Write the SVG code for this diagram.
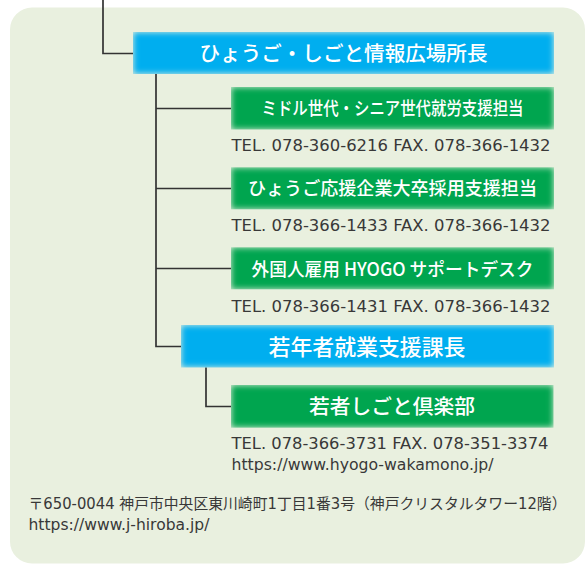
<svg xmlns="http://www.w3.org/2000/svg" width="588" height="565" viewBox="0 0 588 565">
<defs>
<filter id="glow" x="-5%" y="-20%" width="110%" height="140%">
<feGaussianBlur in="SourceGraphic" stdDeviation="3" result="b"/>
<feComposite in="b" in2="SourceAlpha" operator="in"/>
</filter>
<style>
.bg{fill:#E9F0DF}
.blue{fill:#00AEEF;filter:url(#glow)}
.green{fill:#00A550;filter:url(#glow)}
.lbl{font-family:"Noto Sans CJK JP","Noto Sans",sans-serif;font-weight:500;fill:#fff;text-anchor:middle}
.info{font-family:"DejaVu Sans","Noto Sans CJK JP",sans-serif;font-size:16px;fill:#383838}
.addr{font-family:"DejaVu Sans","Noto Sans CJK JP",sans-serif;font-size:15px;fill:#383838}
.conn{fill:none;stroke:#333;stroke-width:1.7}
</style>
</defs>
<rect class="bg" x="10" y="7.5" width="575" height="556" rx="22"/>
<g id="connectors">
<path class="conn" d="M103,0 V53.5 H133"/>
<path class="conn" d="M156,74 V346.5 H181"/>
<path class="conn" d="M156,108.5 H231"/>
<path class="conn" d="M156,188.5 H231"/>
<path class="conn" d="M156,268.5 H231"/>
<path class="conn" d="M206,367.5 V406.5 H231"/>
</g>
<g id="n-director">
<rect class="blue" x="133" y="32" width="421" height="42"/>
<text class="lbl" x="343.5" y="60.5" font-size="20.5" textLength="288" lengthAdjust="spacingAndGlyphs">ひょうご・しごと情報広場所長</text>
</g>
<g id="n-middle">
<rect class="green" x="231" y="87" width="323" height="42.5"/>
<text class="lbl" x="392.5" y="115" font-size="18" textLength="262" lengthAdjust="spacingAndGlyphs">ミドル世代・シニア世代就労支援担当</text>
<text class="info" x="231.5" y="150.7" textLength="319" lengthAdjust="spacingAndGlyphs">TEL. 078-360-6216 FAX. 078-366-1432</text>
</g>
<g id="n-graduate">
<rect class="green" x="231" y="167.3" width="323" height="42"/>
<text class="lbl" x="392.5" y="194.5" font-size="18.5" textLength="289" lengthAdjust="spacingAndGlyphs">ひょうご応援企業大卒採用支援担当</text>
<text class="info" x="231.5" y="230.7" textLength="319" lengthAdjust="spacingAndGlyphs">TEL. 078-366-1433 FAX. 078-366-1432</text>
</g>
<g id="n-foreign">
<rect class="green" x="231" y="247.3" width="323" height="42"/>
<text class="lbl" x="392.5" y="276" font-size="18.5" textLength="282" lengthAdjust="spacingAndGlyphs">外国人雇用 HYOGO サポートデスク</text>
<text class="info" x="231.5" y="311.5" textLength="319" lengthAdjust="spacingAndGlyphs">TEL. 078-366-1431 FAX. 078-366-1432</text>
</g>
<g id="n-youth-chief">
<rect class="blue" x="181" y="325" width="373" height="42.5"/>
<text class="lbl" x="367" y="354.5" font-size="21.5" textLength="197" lengthAdjust="spacingAndGlyphs">若年者就業支援課長</text>
</g>
<g id="n-youth-club">
<rect class="green" x="231" y="385" width="322.5" height="42.7"/>
<text class="lbl" x="392" y="413.8" font-size="20.5" textLength="166" lengthAdjust="spacingAndGlyphs">若者しごと倶楽部</text>
<text class="info" x="231.5" y="448.5" textLength="317" lengthAdjust="spacingAndGlyphs">TEL. 078-366-3731 FAX. 078-351-3374</text>
<text class="info" x="231.5" y="470" textLength="262" lengthAdjust="spacingAndGlyphs">https://www.hyogo-wakamono.jp/</text>
</g>
<g id="address">
<text class="addr" x="28.5" y="508.7" textLength="538" lengthAdjust="spacingAndGlyphs">〒650-0044 神戸市中央区東川崎町1丁目1番3号（神戸クリスタルタワー12階）</text>
<text class="addr" x="28.5" y="530" textLength="181" lengthAdjust="spacingAndGlyphs">https://www.j-hiroba.jp/</text>
</g>
</svg>
